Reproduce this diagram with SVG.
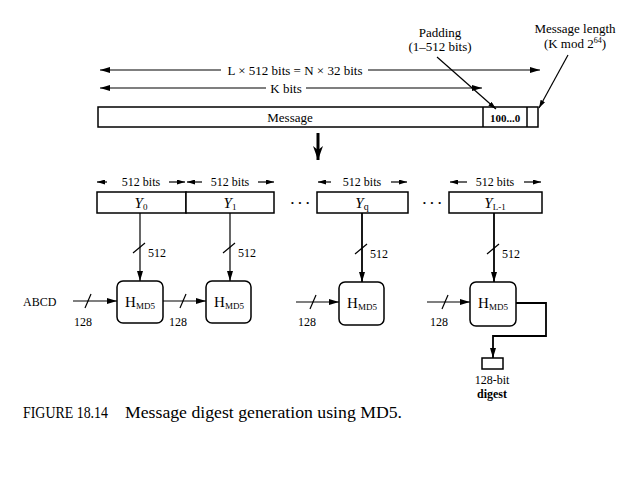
<svg xmlns="http://www.w3.org/2000/svg" width="640" height="480" viewBox="0 0 640 480">
<style>
text{font-family:"Liberation Serif","Times New Roman",serif;fill:#000}
.t13{font-size:13px}
.t12{font-size:12px}
.ln{stroke:#000;stroke-width:1.2;fill:none}
.thk{stroke:#000;stroke-width:1.8;fill:none}
.box{fill:#fff;stroke:#000;stroke-width:1.5}
.hb{fill:#fff;stroke:#000;stroke-width:1.5}
.y{font-size:15px}
.h{font-size:15px}
</style>
<defs>
<marker id="ah" viewBox="0 0 10 6" refX="10" refY="3" markerWidth="10" markerHeight="6" markerUnits="userSpaceOnUse" orient="auto-start-reverse"><path d="M0,0 L10,3 L0,6 z"/></marker>
<marker id="ahs" viewBox="0 0 8 5" refX="8" refY="2.5" markerWidth="8" markerHeight="5" markerUnits="userSpaceOnUse" orient="auto-start-reverse"><path d="M0,0 L8,2.5 L0,5 z"/></marker>
<marker id="big" viewBox="0 0 10 14" refX="5" refY="14" markerWidth="10" markerHeight="14" markerUnits="userSpaceOnUse" orient="0"><path d="M0,0 L5,14 L10,0 L5,4 z"/></marker>
</defs>

<g id="dimensions">
<line class="ln" x1="221" y1="70" x2="100" y2="70" marker-end="url(#ah)"/>
<line class="ln" x1="368" y1="70" x2="540" y2="70" marker-end="url(#ah)"/>
<text class="t13" x="295" y="75" text-anchor="middle">L × 512 bits = N × 32 bits</text>
<line class="ln" x1="266" y1="88" x2="100" y2="88" marker-end="url(#ah)"/>
<line class="ln" x1="306" y1="88" x2="482" y2="88" marker-end="url(#ah)"/>
<text class="t13" x="286" y="93" text-anchor="middle">K bits</text>
</g>

<g id="message">
<rect class="box" x="98" y="107" width="440" height="20"/>
<line class="ln" x1="483" y1="107" x2="483" y2="127" style="stroke-width:1.5"/>
<line class="ln" x1="527" y1="107" x2="527" y2="127" style="stroke-width:1.5"/>
<text class="t13" x="290" y="122" text-anchor="middle">Message</text>
<text x="505" y="122" text-anchor="middle" style="font-size:11px;font-weight:bold">100...0</text>
</g>

<g id="padding-label">
<text class="t13" x="440" y="37" text-anchor="middle">Padding</text>
<text class="t13" x="440" y="51" text-anchor="middle">(1–512 bits)</text>
</g>
<g id="length-label">
<text class="t13" x="575" y="33" text-anchor="middle">Message length</text>
<text class="t13" x="575" y="48" text-anchor="middle">(K mod 2<tspan dy="-5" style="font-size:8px">64</tspan><tspan dy="5">)</tspan></text>
</g>

<g id="blocks">
<rect class="box" x="97" y="192" width="89" height="21"/>
<rect class="box" x="186" y="192" width="88" height="21"/>
<rect class="box" x="317" y="192" width="91" height="21"/>
<rect class="box" x="449" y="192" width="93" height="21"/>
<text class="y" x="141" y="208" text-anchor="middle"><tspan font-style="italic">Y</tspan><tspan dy="2" style="font-size:9px">0</tspan></text>
<text class="y" x="230" y="208" text-anchor="middle"><tspan font-style="italic">Y</tspan><tspan dy="2" style="font-size:9px">1</tspan></text>
<text class="y" x="362" y="208" text-anchor="middle"><tspan font-style="italic">Y</tspan><tspan dy="2" style="font-size:10px">q</tspan></text>
<text class="y" x="495" y="208" text-anchor="middle"><tspan font-style="italic">Y</tspan><tspan dy="2" style="font-size:9px">L-1</tspan></text>
<text class="t13" x="300" y="207" text-anchor="middle" style="font-weight:bold">· · ·</text>
<text class="t13" x="432" y="207" text-anchor="middle" style="font-weight:bold">· · ·</text>
</g>

<g id="block-dims">
<text class="t12" x="141" y="186" text-anchor="middle">512 bits</text>
<text class="t12" x="230" y="186" text-anchor="middle">512 bits</text>
<text class="t12" x="362" y="186" text-anchor="middle">512 bits</text>
<text class="t12" x="495" y="186" text-anchor="middle">512 bits</text>
</g>

<g id="h1"><rect class="hb" x="117" y="281" width="46" height="42" rx="6"/><text class="h" x="140" y="307" text-anchor="middle">H<tspan dy="2" style="font-size:9px">MD5</tspan></text></g>
<g id="h2"><rect class="hb" x="206" y="281" width="45" height="42" rx="6"/><text class="h" x="229" y="307" text-anchor="middle">H<tspan dy="2" style="font-size:9px">MD5</tspan></text></g>
<g id="h3"><rect class="hb" x="339" y="282" width="45" height="43" rx="6"/><text class="h" x="362" y="308" text-anchor="middle">H<tspan dy="2" style="font-size:9px">MD5</tspan></text></g>
<g id="h4"><rect class="hb" x="470" y="282" width="46" height="44" rx="6"/><text class="h" x="493" y="308" text-anchor="middle">H<tspan dy="2" style="font-size:9px">MD5</tspan></text></g>

<g id="digest"><rect class="box" x="482" y="358" width="21" height="11"/>
<text class="t12" x="492" y="384" text-anchor="middle">128-bit</text>
<text class="t12" x="492" y="398" text-anchor="middle" style="font-weight:bold">digest</text></g>

<g id="abcd"><text class="t12" x="23" y="306">ABCD</text></g>

<g id="connectors">
<line class="ln" x1="437" y1="57" x2="496" y2="109" marker-end="url(#ahs)"/>
<line class="ln" x1="568" y1="55" x2="539" y2="108" marker-end="url(#ahs)"/>
<line x1="318" y1="133" x2="318" y2="160" style="stroke:#000;stroke-width:3" marker-end="url(#big)"/>
<line class="ln" x1="107" y1="182" x2="97" y2="182" marker-end="url(#ahs)"/>
<line class="ln" x1="169" y1="182" x2="185" y2="182" marker-end="url(#ahs)"/>
<line class="ln" x1="202" y1="182" x2="187" y2="182" marker-end="url(#ahs)"/>
<line class="ln" x1="258" y1="182" x2="274" y2="182" marker-end="url(#ahs)"/>
<line class="ln" x1="331" y1="182" x2="318" y2="182" marker-end="url(#ahs)"/>
<line class="ln" x1="391" y1="182" x2="407" y2="182" marker-end="url(#ahs)"/>
<line class="ln" x1="467" y1="182" x2="450" y2="182" marker-end="url(#ahs)"/>
<line class="ln" x1="524" y1="182" x2="541" y2="182" marker-end="url(#ahs)"/>
<line class="ln" x1="140" y1="213" x2="140" y2="281" marker-end="url(#ah)"/>
<line class="ln" x1="230" y1="213" x2="230" y2="281" marker-end="url(#ah)"/>
<line class="thk" x1="362" y1="213" x2="362" y2="282" marker-end="url(#ah)"/>
<line class="thk" x1="494" y1="213" x2="494" y2="282" marker-end="url(#ah)"/>
<line class="ln" x1="133" y1="253" x2="145" y2="243"/>
<line class="ln" x1="223" y1="253" x2="235" y2="243"/>
<line class="ln" x1="355" y1="254" x2="367" y2="244"/>
<line class="ln" x1="487" y1="254" x2="499" y2="244"/>
<text class="t12" x="148" y="257">512</text>
<text class="t12" x="238" y="257">512</text>
<text class="t12" x="370" y="258">512</text>
<text class="t12" x="502" y="258">512</text>
<line class="ln" x1="73" y1="301" x2="117" y2="301" marker-end="url(#ah)"/>
<line class="ln" x1="163" y1="301" x2="206" y2="301" marker-end="url(#ah)"/>
<line class="ln" x1="296" y1="302" x2="339" y2="302" marker-end="url(#ah)"/>
<line class="ln" x1="427" y1="302" x2="470" y2="302" marker-end="url(#ah)"/>
<line class="ln" x1="85" y1="308" x2="91" y2="294"/>
<line class="ln" x1="180" y1="308" x2="186" y2="294"/>
<line class="ln" x1="310" y1="309" x2="316" y2="295"/>
<line class="ln" x1="442" y1="309" x2="448" y2="295"/>
<text class="t12" x="83" y="326" text-anchor="middle">128</text>
<text class="t12" x="178" y="326" text-anchor="middle">128</text>
<text class="t12" x="307" y="326" text-anchor="middle">128</text>
<text class="t12" x="439" y="326" text-anchor="middle">128</text>
<polyline class="thk" points="516,303 546,303 546,336 493,336 493,358" marker-end="url(#ah)"/>
</g>

<g id="caption">
<text x="23" y="418" style="font-size:16px" textLength="85" lengthAdjust="spacingAndGlyphs">FIGURE 18.14</text>
<text x="125" y="418" style="font-size:16.5px" textLength="277" lengthAdjust="spacingAndGlyphs">Message digest generation using MD5.</text>
</g>
</svg>
